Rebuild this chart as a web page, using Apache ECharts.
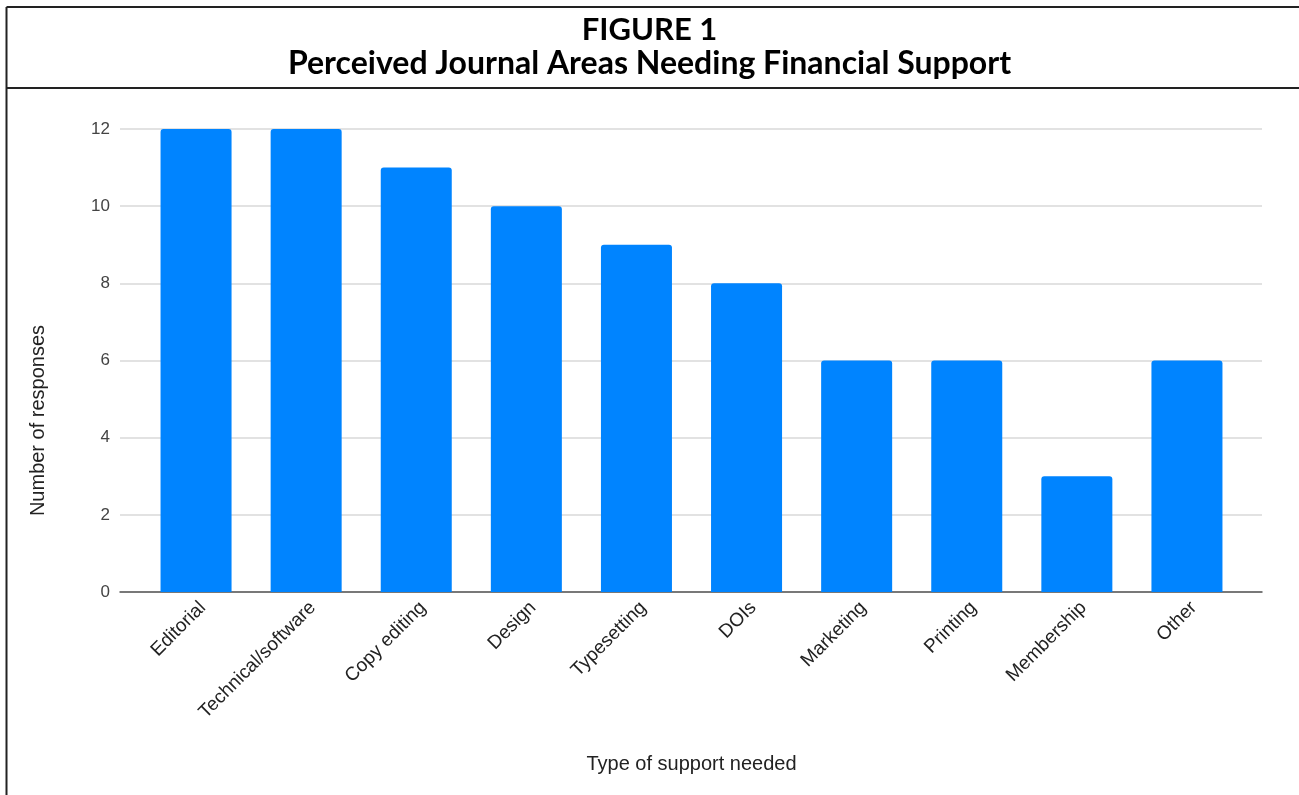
<!DOCTYPE html>
<html>
<head>
<meta charset="utf-8">
<script src="https://cdn.jsdelivr.net/npm/echarts@6/dist/echarts.min.js"></script>
<style>
  html, body { margin: 0; padding: 0; background: #fff; }
  #main { width: 1299px; height: 795px; }
</style>
</head>
<body>
<div id="main"></div>
<script>
// data
var categories = ['Editorial', 'Technical/software', 'Copy editing', 'Design', 'Typesetting',
                  'DOIs', 'Marketing', 'Printing', 'Membership', 'Other'];
var responses = [12, 12, 11, 10, 9, 8, 6, 6, 3, 6];
var yTicks = { min: 0, max: 12, interval: 2 };

var myChart = echarts.init(document.getElementById('main'));

var option = {
    animation: false,
    textStyle: { fontFamily: 'Liberation Sans, Arial, sans-serif' },
    // frame + heading box
    graphic: [
        { type: 'line', shape: { x1: 6.5, y1: 7, x2: 1299, y2: 7 }, style: { stroke: '#222', lineWidth: 2 } },
        { type: 'line', shape: { x1: 6.5, y1: 7, x2: 6.5, y2: 795 }, style: { stroke: '#222', lineWidth: 2 } },
        { type: 'line', shape: { x1: 6.5, y1: 88, x2: 1299, y2: 88 }, style: { stroke: '#222', lineWidth: 2 } },
        {
            type: 'text', left: 'center', top: 14,
            style: { text: 'FIGURE 1', font: 'bold 31px Lato, "Open Sans", sans-serif', fill: '#000' }
        },
        {
            type: 'text', left: 'center', top: 48,
            style: { text: 'Perceived Journal Areas Needing Financial Support', font: 'bold 32px Lato, "Open Sans", sans-serif', fill: '#000' }
        }
    ],
    grid: [
        // bars sit in an inset band, gridlines run wider
        { left: 141, right: 57, top: 129, bottom: 203 },
        { left: 120, right: 37, top: 129, bottom: 203 }
    ],
    xAxis: [{
        type: 'category',
        gridIndex: 0,
        data: categories,
        name: 'Type of support needed',
        nameLocation: 'middle',
        nameGap: 162,
        nameTextStyle: { fontSize: 20, color: '#222' },
        axisLine: { show: false },
        axisTick: { show: false },
        axisLabel: { rotate: 45, fontSize: 19, color: '#222', margin: 6, verticalAlign: 'top', interval: 0 }
    }, {
        type: 'value',
        gridIndex: 1,
        min: 0, max: 1,
        axisLine: { onZero: false, lineStyle: { color: '#555', width: 1.5 } },
        axisTick: { show: false },
        axisLabel: { show: false },
        splitLine: { show: false }
    }],
    yAxis: [{
        type: 'value',
        gridIndex: 0,
        min: yTicks.min,
        max: yTicks.max,
        interval: yTicks.interval,
        axisLine: { show: false },
        axisTick: { show: false },
        axisLabel: { show: false },
        splitLine: { show: false }
    }, {
        type: 'value',
        gridIndex: 1,
        min: yTicks.min,
        max: yTicks.max,
        interval: yTicks.interval,
        name: 'Number of responses',
        nameLocation: 'middle',
        nameGap: 72,
        nameTextStyle: { fontSize: 20, color: '#222', padding: [0, 120, 0, 0] },
        axisLine: { show: false },
        axisTick: { show: false },
        axisLabel: { fontSize: 17, color: '#444', margin: 10 },
        splitLine: { lineStyle: { color: '#d9d9d9', width: 1.5 } }
    }],
    series: [{
        type: 'bar',
        xAxisIndex: 0,
        yAxisIndex: 0,
        data: responses,
        barWidth: '64.5%',
        z: 3,
        itemStyle: { color: '#0084ff', borderRadius: [3, 3, 0, 0] }
    }]
};

myChart.setOption(option);
</script>
</body>
</html>
